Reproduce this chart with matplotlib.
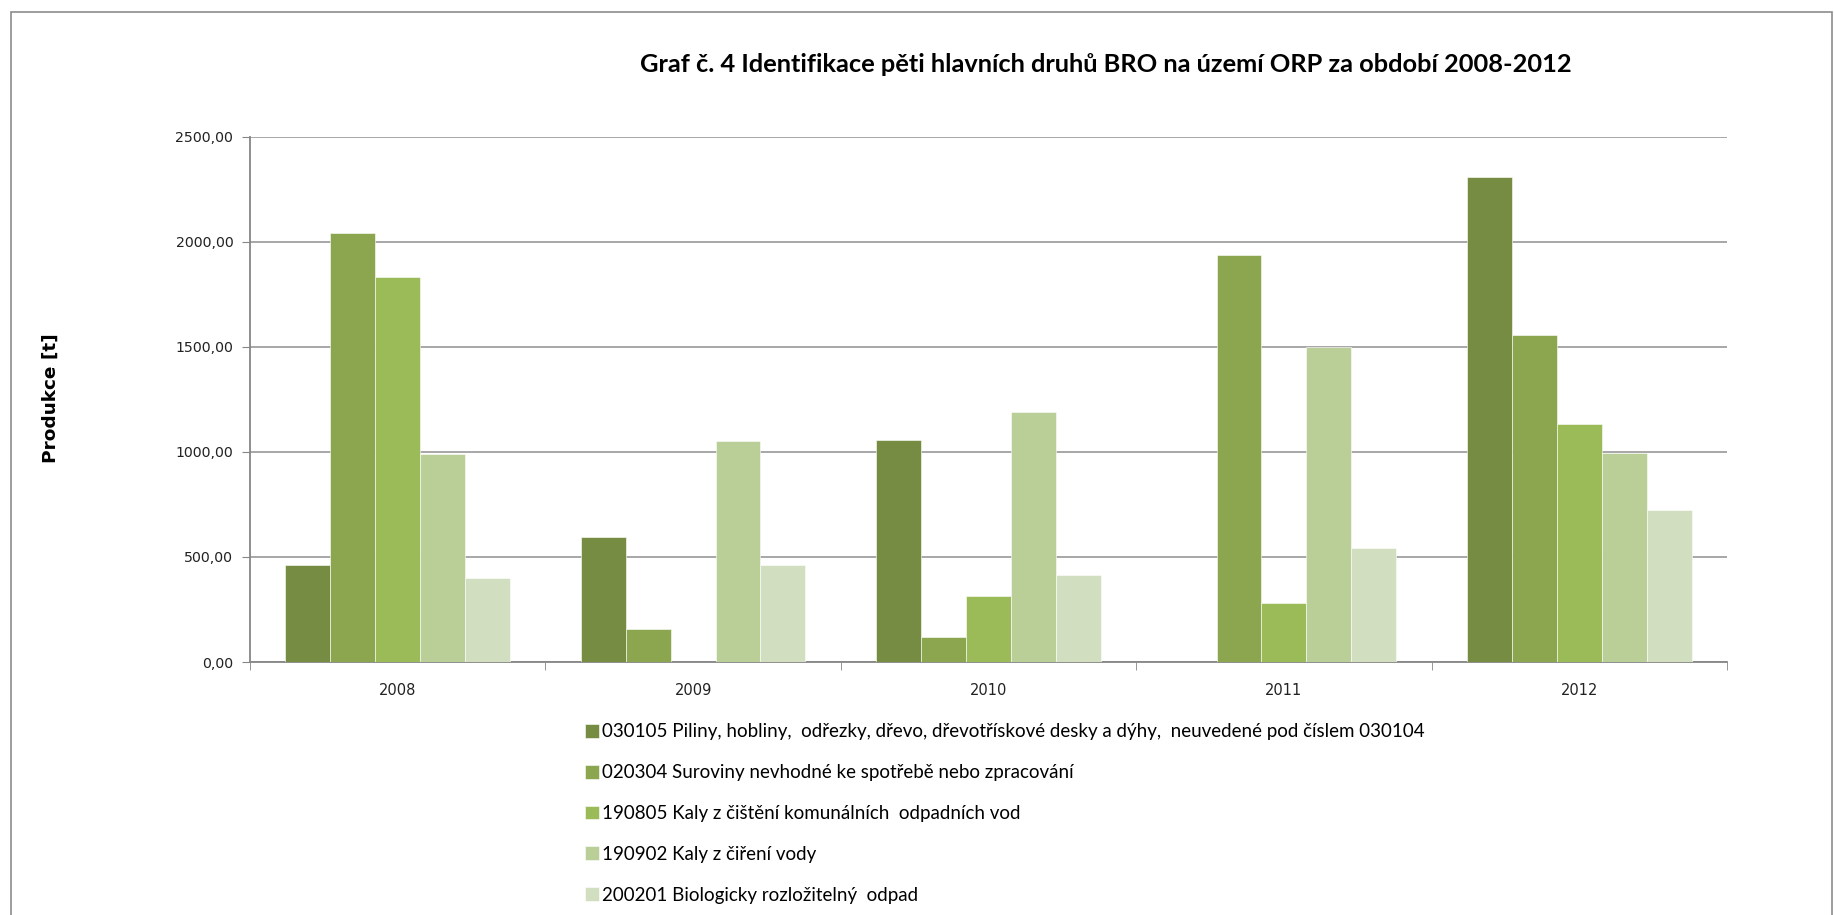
import matplotlib.pyplot as plt
from matplotlib.patches import Rectangle
import numpy as np

years = ['2008', '2009', '2010', '2011', '2012']
labels = [
    '030105 Piliny, hobliny,  odřezky, dřevo, dřevotřískové desky a dýhy,  neuvedené pod číslem 030104',
    '020304 Suroviny nevhodné ke spotřebě nebo zpracování',
    '190805 Kaly z čištění komunálních  odpadních vod',
    '190902 Kaly z čiření vody',
    '200201 Biologicky rozložitelný  odpad',
]
s030105 = [460, 595, 1057, 0, 2308]
s020304 = [2041, 156, 117, 1937, 1557]
s190805 = [1832, 0, 313, 283, 1132]
s190902 = [990, 1051, 1190, 1502, 997]
s200201 = [402, 460, 416, 543, 722]
series = [s030105, s020304, s190805, s190902, s200201]
colors = ['#768C42', '#8BA64F', '#9BBB59', '#BACE98', '#D1DEC0']

W, H = 1834, 915
fig = plt.figure(figsize=(W / 100, H / 100), dpi=100)

# chart frame
fig.patches.append(Rectangle((11 / W, -0.05), (W - 13) / W, 1.05 - 12 / H,
                             transform=fig.transFigure, fill=False,
                             edgecolor='#8C8C8C', linewidth=1.2))

ax = fig.add_axes([250 / W, 1 - 662 / H, (1727 - 250) / W, (662 - 137) / H])

x = np.arange(len(years))
bw = 0.152
for i, (vals, c) in enumerate(zip(series, colors)):
    ax.bar(x + (i - 2) * bw, vals, bw, color=c, label=labels[i], zorder=3,
           edgecolor='white', linewidth=0.4)

ax.set_xlim(-0.5, len(years) - 0.5)
ax.set_ylim(0, 2500)
ax.set_yticks(np.arange(0, 2501, 500))
ax.set_yticklabels(['%d,00' % v for v in np.arange(0, 2501, 500)],
                   fontsize=10.2, color='#222222', family='DejaVu Sans')
ax.set_xticks(x)
ax.set_xticklabels(years, fontsize=10.5, color='#222222', family='DejaVu Sans')
ax.set_xticks(np.arange(-0.5, len(years)), minor=True)
ax.tick_params(axis='x', which='major', length=0, pad=15)
ax.tick_params(axis='x', which='minor', length=6, color='#868686', direction='out')
ax.tick_params(axis='y', length=6, color='#868686', direction='out', pad=6)

ax.grid(axis='y', color='#A0A0A0', linewidth=1.3, zorder=0)
for s in ['top', 'right']:
    ax.spines[s].set_visible(False)
for s in ['left', 'bottom']:
    ax.spines[s].set_color('#868686')
    ax.spines[s].set_linewidth(1.3)

fig.text(51 / W, 1 - 398 / H, 'Produkce [t]', rotation=90, ha='center', va='center',
         fontsize=13.3, fontweight='bold', family='DejaVu Sans')

fig.text(1106 / W, 1 - 64 / H,
         'Graf č. 4 Identifikace pěti hlavních druhů BRO na území ORP za období 2008-2012',
         ha='center', va='center', fontsize=18.3, fontweight='bold', family='Lato')

leg = fig.legend(loc='upper left', bbox_to_anchor=(576 / W, 1 - 714 / H),
                 frameon=False, handlelength=0.75, handleheight=0.75,
                 handletextpad=0.15, labelspacing=1.27, borderpad=0,
                 prop={'family': 'Lato', 'size': 13.5})

fig.savefig('out.png', dpi=100)
